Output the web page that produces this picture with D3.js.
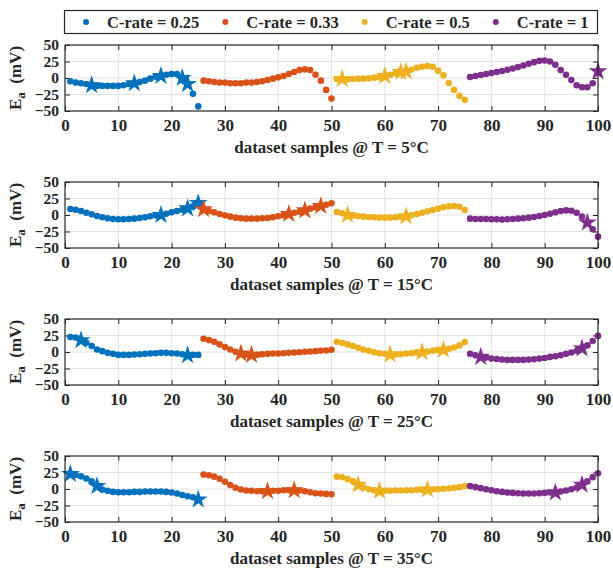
<!DOCTYPE html>
<html>
<head>
<meta charset="utf-8">
<script src="https://cdn.jsdelivr.net/npm/d3@7"></script>
<style>
    body { margin: 0; background: #fff; }
    text { font-family: "Liberation Serif", "Times New Roman", serif; font-weight: bold; fill: #262626; }
</style>
</head>
<body>
<svg id="chart"></svg>
<script>
// C-rate series and their colours
var cRates = ["C-rate = 0.25", "C-rate = 0.33", "C-rate = 0.5", "C-rate = 1"];
var colors = ["#0072BD", "#D95319", "#EDB120", "#7E2F8E"];
var temperatures = ["5°C", "15°C", "25°C", "35°C"];
var samplesPerRate = 25;

var xTicks = [0, 10, 20, 30, 40, 50, 60, 70, 80, 90, 100];
var yTicks = [-50, -25, 0, 25, 50];

// E_a (mV) per dataset sample, 1..100
var ea5 = [
    -5, -7, -8, -9, -11, -12, -12, -12, -12, -12, -11, -9, -8, -6, -4, -1, 2, 3, 5, 6, 6, 0, -9, -24, -43,
    -4, -5, -6, -7, -7, -8, -8, -8, -7, -7, -6, -5, -3, -1, 1, 3, 6, 9, 12, 13, 12, 5, -4, -18, -31,
    -1.5, -1.5, -2, -1.5, -1, -1, -0.5, 0.5, 1, 3, 5, 7, 9, 10, 12.6, 15.6, 17, 18, 17, 11, 4, -7.6, -18, -27, -33,
    1.5, 3, 4.5, 6, 7.5, 9, 10.5, 12.5, 14.5, 16.5, 19, 21.5, 24, 26, 26.5, 25, 20, 12, 5, -3, -11, -14, -14, -8, 10
];
var ea15 = [
    9, 8, 6, 3.5, 1, -1.5, -3.5, -5, -6, -6.5, -6.5, -6, -5.5, -4.5, -3.5, -2, -0.5, 0, 2, 4, 6, 8, 10, 13, 18,
    8.6, 6, 4, 1.5, -0.5, -2.5, -4, -5, -5.5, -5.5, -5.5, -5, -4.5, -3.5, -2, -0.5, 1.5, 3.5, 5, 7, 9.6, 11.6, 13.6, 15.6, 17.7,
    4.5, 2.5, 0, -1, -2, -2.5, -3, -3.5, -4, -4, -4, -3.5, -3, -2, -0.5, 1.5, 3.5, 5.5, 7.5, 9.6, 11.6, 13, 13.6, 12.6, 7.5,
    -5.5, -6, -6, -6, -6.5, -6.5, -7, -6.5, -6, -5.5, -5, -4, -3, -1.5, 0, 2, 4, 6, 7, 6.5, 3.5, -2.5, -11.6, -21.7, -32.8
];
var ea25 = [
    22.8, 21.8, 17.7, 14, 9, 3.8, 1.3, -1.3, -2.8, -4.4, -4.4, -4.4, -3.8, -3.3, -2.8, -2.3, -1.8, -1.3, -1.3, -1.8, -2.3, -3.3, -4.9, -4.4, -4.4,
    20, 18, 15.6, 11.5, 7.4, 3.8, 0.3, -2.3, -3.8, -4.4, -4.4, -3.3, -2.8, -2.3, -2.3, -1.8, -1.3, -0.8, -0.3, 0.3, 0.8, 1.3, 1.8, 2.3, 3.3,
    15.6, 14, 11.5, 9, 6.4, 3.8, 1.8, -0.3, -1.8, -2.8, -3.8, -3.8, -3.3, -2.3, -1.8, -1.3, -0.3, 0.8, 1.8, 2.8, 3.3, 4.9, 6.9, 10, 15,
    -2.8, -4.9, -7.4, -8.5, -10, -10.5, -11.5, -12, -12, -12, -12, -11.5, -11, -10, -9, -7.4, -6.4, -4.9, -2.8, -0.8, 1.8, 5.4, 10, 16.7, 24.4
];
var ea35 = [
    22.8, 21.3, 19.2, 16, 11.5, 4.4, -0.8, -2.8, -4.4, -4.9, -4.9, -4.9, -4.4, -4.4, -3.8, -3.8, -3.8, -3.8, -4.4, -5.4, -6.9, -9, -11, -12.6, -16,
    21.8, 20.8, 18.7, 15.6, 11, 5.9, 1.8, -0.8, -2.3, -2.8, -3.3, -3.3, -3.3, -2.8, -2.8, -1.8, -1.8, -1.8, -2.3, -3.3, -4.9, -6.4, -6.9, -7.4, -7.9,
    18.7, 17.7, 15, 11.5, 6.4, 2.3, -0.3, -1.8, -2.8, -2.8, -2.8, -2.3, -2.3, -1.8, -1.8, -1.3, -1.3, -0.8, -0.8, -0.3, 0.3, 0.8, 1.8, 2.8, 4.4,
    4.4, 2.8, 1.3, -0.3, -1.8, -3.3, -4.4, -5.4, -5.9, -6.4, -6.9, -6.9, -6.9, -6.4, -5.9, -5.4, -5.4, -3.8, -2.3, -0.3, 2.3, 6.4, 11.5, 17.7, 23.8
];

// samples marked with a star
var stars5 = [5, 13, 18, 22, 23, 52, 60, 63, 64, 100];
var stars15 = [18, 23, 25, 26, 42, 45, 48, 53, 64, 98];
var stars25 = [3, 23, 33, 35, 61, 67, 71, 78, 97];
var stars35 = [1, 6, 25, 38, 43, 55, 59, 68, 92, 97];

var panels = [
    { temp: temperatures[0], values: ea5, stars: stars5 },
    { temp: temperatures[1], values: ea15, stars: stars15 },
    { temp: temperatures[2], values: ea25, stars: stars25 },
    { temp: temperatures[3], values: ea35, stars: stars35 }
];

var width = 613, height = 569;
var left = 65, right = 598;
var plotTops = [45, 182, 319, 456];
var plotH = 66;
var fontSize = 17;
var yTickFontSize = 15.5;

var svg = d3.select('#chart').attr('width', width).attr('height', height);

var x = d3.scaleLinear().domain([0, 100]).range([left, right]);

function colorOf(i) {
    return colors[Math.floor((i - 1) / samplesPerRate)];
}

function styleAxis(a, size) {
    a.select('.domain').remove();
    a.selectAll('line').attr('stroke', '#262626').attr('stroke-width', 1);
    a.selectAll('text').attr('font-size', size)
        .style('font-family', '"Liberation Serif", "Times New Roman", serif')
        .style('font-weight', 'bold').attr('fill', '#262626');
}

panels.forEach(function(p, k) {
    var top = plotTops[k];
    var bottom = top + plotH;
    var y = d3.scaleLinear().domain([-50, 50]).range([bottom, top]);
    var g = svg.append('g');

    // grid
    g.selectAll('.gx').data(xTicks.slice(1, -1)).enter().append('line')
        .attr('x1', function(d) { return x(d); }).attr('x2', function(d) { return x(d); })
        .attr('y1', top).attr('y2', bottom)
        .attr('stroke', '#e3e3e3').attr('stroke-width', 1);
    g.selectAll('.gy').data(yTicks.slice(1, -1)).enter().append('line')
        .attr('x1', left).attr('x2', right)
        .attr('y1', function(d) { return y(d); }).attr('y2', function(d) { return y(d); })
        .attr('stroke', '#e3e3e3').attr('stroke-width', 1);

    // axes, ticks inside
    var ax = g.append('g').attr('transform', 'translate(0,' + bottom + ')')
        .call(d3.axisBottom(x).tickValues(xTicks).tickSizeInner(-5).tickSizeOuter(0).tickPadding(8));
    var axTop = g.append('g').attr('transform', 'translate(0,' + top + ')')
        .call(d3.axisTop(x).tickValues(xTicks).tickSizeInner(-5).tickSizeOuter(0).tickFormat(''));
    var ay = g.append('g').attr('transform', 'translate(' + left + ',0)')
        .call(d3.axisLeft(y).tickValues(yTicks).tickSizeInner(-5).tickSizeOuter(0).tickPadding(6));
    var ayRight = g.append('g').attr('transform', 'translate(' + right + ',0)')
        .call(d3.axisRight(y).tickValues(yTicks).tickSizeInner(-5).tickSizeOuter(0).tickFormat(''));
    styleAxis(ax, fontSize);
    styleAxis(axTop, fontSize);
    styleAxis(ay, yTickFontSize);
    styleAxis(ayRight, yTickFontSize);

    // dots
    g.selectAll('.dot').data(p.values).enter().append('circle')
        .attr('cx', function(d, i) { return x(i + 1); })
        .attr('cy', function(d) { return y(d); })
        .attr('r', 3.3)
        .attr('fill', function(d, i) { return colorOf(i + 1); });

    // stars
    var star = d3.symbol().type(d3.symbolStar).size(110);
    g.selectAll('.star').data(p.stars).enter().append('path')
        .attr('d', star)
        .attr('transform', function(s) { return 'translate(' + x(s) + ',' + y(p.values[s - 1]) + ')'; })
        .attr('fill', function(s) { return colorOf(s); });

    // box
    g.append('rect').attr('x', left).attr('y', top).attr('width', right - left).attr('height', plotH)
        .attr('fill', 'none').attr('stroke', '#262626').attr('stroke-width', 1.2);

    // labels
    g.append('text').attr('x', (left + right) / 2).attr('y', bottom + 42)
        .attr('text-anchor', 'middle').attr('font-size', fontSize)
        .text('dataset samples @ T = ' + p.temp);

    var yl = g.append('text')
        .attr('transform', 'translate(21,' + (top + plotH / 2) + ') rotate(-90)')
        .attr('text-anchor', 'middle').attr('font-size', fontSize);
    yl.append('tspan').text('E');
    yl.append('tspan').attr('dy', 4).attr('font-size', 13).text('a');
    yl.append('tspan').attr('dy', -4).text('\u00a0\u00a0(mV)');
});

// legend
var legend = svg.append('g');
legend.append('rect').attr('x', 64.5).attr('y', 10.5).attr('width', 533).attr('height', 23)
    .attr('fill', '#fff').attr('stroke', '#262626').attr('stroke-width', 1.2);
var lx = 86;
cRates.forEach(function(name, i) {
    legend.append('circle').attr('cx', lx).attr('cy', 22).attr('r', 3).attr('fill', colors[i]);
    var t = legend.append('text').attr('x', lx + 21).attr('y', 27.5)
        .attr('font-size', 16.5).text(name);
    lx = lx + 21 + t.node().getComputedTextLength() + 26;
});
</script>
</body>
</html>
